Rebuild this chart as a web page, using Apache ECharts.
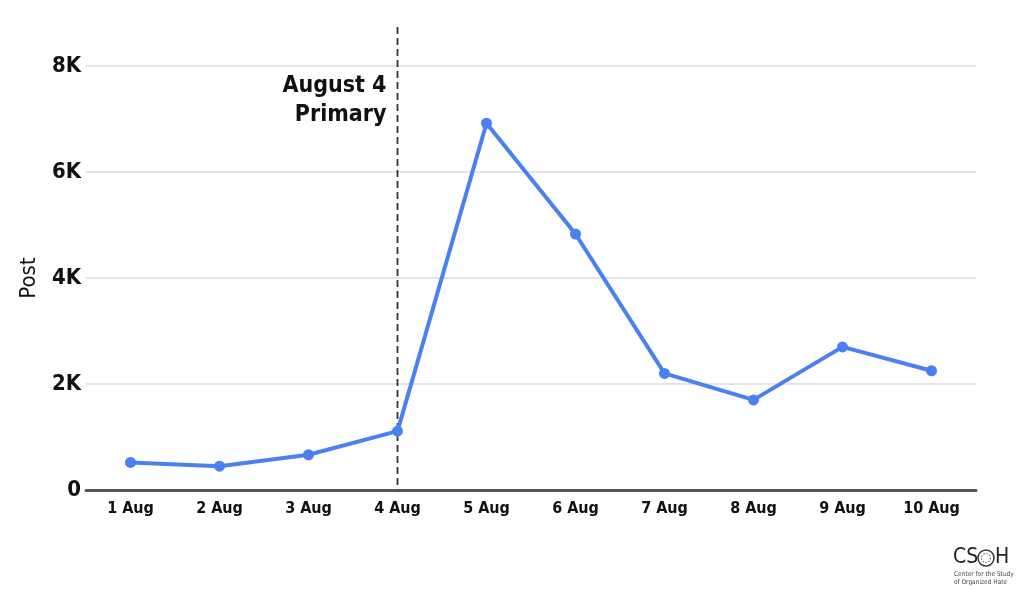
<!DOCTYPE html>
<html>
<head>
<meta charset="utf-8">
<script src="https://cdn.jsdelivr.net/npm/echarts@6/dist/echarts.min.js"></script>
<style>
  html, body { margin: 0; padding: 0; background: #fff; }
  #main { width: 1024px; height: 604px; }
</style>
</head>
<body>
<div id="main"></div>
<script>
var days = ['1 Aug', '2 Aug', '3 Aug', '4 Aug', '5 Aug', '6 Aug', '7 Aug', '8 Aug', '9 Aug', '10 Aug'];
var posts = [520, 450, 665, 1110, 6920, 4830, 2200, 1700, 2700, 2250];
var primaryDay = '4 Aug';
var yTicks = { min: 0, max: 8000, interval: 2000 };

var FONT = "'DejaVu Sans Condensed', 'DejaVu Sans', sans-serif";

var myChart = echarts.init(document.getElementById('main'));

// y labels like 2K, 4K
function kLabel(v) {
    return v === 0 ? '0' : (v / 1000) + 'K';
}

var option = {
    animation: false,
    backgroundColor: '#fff',
    grid: { left: 86, right: 48, top: 66, bottom: 114 },
    xAxis: {
        type: 'category',
        data: days,
        boundaryGap: true,
        axisLine: { lineStyle: { color: '#555', width: 3 } },
        axisTick: { show: false },
        axisLabel: { color: '#111', fontFamily: FONT, fontWeight: 'bold', fontSize: 16, margin: 11 }
    },
    yAxis: {
        type: 'value',
        min: yTicks.min,
        max: yTicks.max,
        interval: yTicks.interval,
        name: 'Post',
        nameLocation: 'middle',
        nameGap: 46,
        nameTextStyle: { color: '#111', fontFamily: FONT, fontSize: 22 },
        axisLine: { show: false },
        axisTick: { show: false },
        splitLine: { lineStyle: { color: '#e4e4e4', width: 2 } },
        axisLabel: { color: '#111', fontFamily: FONT, fontWeight: 'bold', fontSize: 22, margin: 5, formatter: kLabel }
    },
    series: [{
        type: 'line',
        data: posts,
        symbol: 'circle',
        symbolSize: 11,
        lineStyle: { color: '#4a80f2', width: 4 },
        itemStyle: { color: '#4a80f2' }
    }]
};

myChart.setOption(option);

// primary-day marker: position taken from the axis scale
var px = myChart.convertToPixel({ xAxisIndex: 0 }, primaryDay);
var y0 = myChart.convertToPixel({ yAxisIndex: 0 }, 0);

myChart.setOption({
    graphic: [
        {
            type: 'line', z: 1,
            shape: { x1: px, y1: 27, x2: px, y2: y0 },
            style: { stroke: '#333', lineWidth: 1.8, lineDash: [7, 4] }
        },
        {
            type: 'text', x: px - 11, y: 72,
            style: {
                text: 'August 4\nPrimary', align: 'right', fill: '#111',
                font: 'bold 23px ' + FONT, lineHeight: 29
            }
        },
        // CSOH logo
        {
            type: 'text', x: 953, y: 547,
            style: { text: 'CS', fill: '#222', font: '21px ' + FONT }
        },
        {
            type: 'circle', shape: { cx: 986, cy: 558, r: 8 },
            style: { fill: '#fff', stroke: '#333', lineWidth: 1.5 }
        },
        {
            type: 'circle', shape: { cx: 986, cy: 558, r: 4.5 },
            style: { fill: 'none', stroke: '#777', lineWidth: 1.2, lineDash: [1.5, 1.5] }
        },
        {
            type: 'text', x: 995, y: 547,
            style: { text: 'H', fill: '#222', font: '21px ' + FONT }
        },
        {
            type: 'text', x: 954, y: 570,
            style: { text: 'Center for the Study\nof Organized Hate', fill: '#444', font: '6.5px ' + FONT, lineHeight: 8 }
        }
    ]
});
</script>
</body>
</html>
